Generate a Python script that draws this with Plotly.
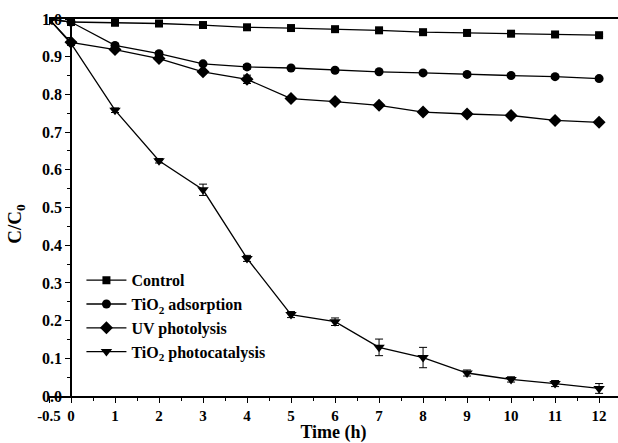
import plotly.graph_objects as go

time = [-0.5, 0, 1, 2, 3, 4, 5, 6, 7, 8, 9, 10, 11, 12]

control = [1.0, 0.992, 0.990, 0.988, 0.984, 0.978, 0.976, 0.973, 0.970, 0.965, 0.963, 0.961, 0.959, 0.957]
adsorption = [1.0, 0.992, 0.930, 0.908, 0.881, 0.873, 0.870, 0.864, 0.860, 0.857, 0.853, 0.850, 0.847, 0.842]
uv = [1.0, 0.938, 0.919, 0.895, 0.860, 0.840, 0.789, 0.781, 0.771, 0.753, 0.748, 0.744, 0.731, 0.726]
photo = [1.0, 0.935, 0.758, 0.624, 0.547, 0.365, 0.216, 0.197, 0.129, 0.102, 0.061, 0.044, 0.033, 0.020]

control_err = [0, 0.003, 0.003, 0.003, 0.003, 0.003, 0.003, 0.003, 0.003, 0.003, 0.003, 0.003, 0.003, 0.003]
adsorption_err = [0, 0.004, 0.005, 0.005, 0.004, 0.006, 0.004, 0.004, 0.004, 0.004, 0.004, 0.004, 0.004, 0.004]
uv_err = [0, 0.004, 0.004, 0.005, 0.005, 0.011, 0.005, 0.004, 0.004, 0.004, 0.004, 0.004, 0.004, 0.004]
photo_err = [0, 0.005, 0.006, 0.006, 0.015, 0.008, 0.008, 0.010, 0.022, 0.027, 0.008, 0.007, 0.008, 0.013]

names = ["Control", "TiO<sub>2</sub> adsorption", "UV photolysis", "TiO<sub>2</sub> photocatalysis"]
symbols = ["square", "circle", "diamond", "triangle-down"]
sizes = [8, 9, 10, 10]

x_ticks = [-0.5, 0, 1, 2, 3, 4, 5, 6, 7, 8, 9, 10, 11, 12]
x_ticktext = ["-0.5", "0", "1", "2", "3", "4", "5", "6", "7", "8", "9", "10", "11", "12"]
y_ticks = [0.0, 0.1, 0.2, 0.3, 0.4, 0.5, 0.6, 0.7, 0.8, 0.9, 1.0]

x_min, x_max = -0.5, 12.43

fig = go.Figure()
for name, ys, err, sym, sz in zip(names, [control, adsorption, uv, photo],
                                  [control_err, adsorption_err, uv_err, photo_err],
                                  symbols, sizes):
    fig.add_trace(go.Scatter(
        x=time, y=ys, name=name, mode="lines+markers",
        line=dict(color="black", width=1.3),
        marker=dict(symbol=sym, size=sz, color="black"),
        error_y=dict(type="data", array=err, visible=True, color="black", thickness=1, width=4),
    ))

font_family = "Liberation Serif, Times New Roman, serif"

fig.update_layout(
    width=618, height=443,
    margin=dict(l=49, r=0, t=19, b=47, autoexpand=False),
    paper_bgcolor="white", plot_bgcolor="white",
    font=dict(family=font_family, size=15, color="black", weight="bold"),
    showlegend=True,
    legend=dict(x=0.057, y=0.352, xanchor="left", yanchor="top",
                bgcolor="rgba(0,0,0,0)", font=dict(size=16, family=font_family, weight="bold"),
                tracegroupgap=0, itemwidth=40),
    xaxis=dict(
        range=[x_min, x_max], showgrid=False, zeroline=False, automargin=False,
        showline=True, linecolor="black", linewidth=1.5, mirror=True,
        tickmode="array", tickvals=x_ticks, ticktext=x_ticktext,
        ticks="outside", ticklen=5, tickwidth=1.2, tickcolor="black",
        minor=dict(tickmode="array", tickvals=[i + 0.5 for i in range(0, 12)],
                   ticks="outside", ticklen=3, tickwidth=1, tickcolor="black"),
        title=dict(text="Time (h)", standoff=4, font=dict(size=18, family=font_family, weight="bold")),
        tickfont=dict(size=15, family=font_family, weight="bold"),
    ),
    yaxis=dict(
        range=[0, 1.0], showgrid=False, zeroline=False, automargin=False,
        anchor="free", position=(0 - x_min) / (x_max - x_min),
        showline=True, linecolor="black", linewidth=1.5,
        tickmode="array", tickvals=y_ticks, tickformat=".1f",
        ticks="outside", ticklen=5, tickwidth=1.2, tickcolor="black",
        minor=dict(tickmode="array", tickvals=[0.05 + 0.1 * i for i in range(10)],
                   ticks="outside", ticklen=3, tickwidth=1, tickcolor="black"),
        title=dict(text="C/C<sub>0</sub>" + "&nbsp;" * 7, standoff=14,
                   font=dict(size=19, family=font_family, weight="bold")),
        tickfont=dict(size=16, family=font_family, weight="bold"),
    ),
)

fig.write_html("out.html", config={"displayModeBar": False},
               post_script="document.body.style.margin='0';document.body.style.overflow='hidden';")
